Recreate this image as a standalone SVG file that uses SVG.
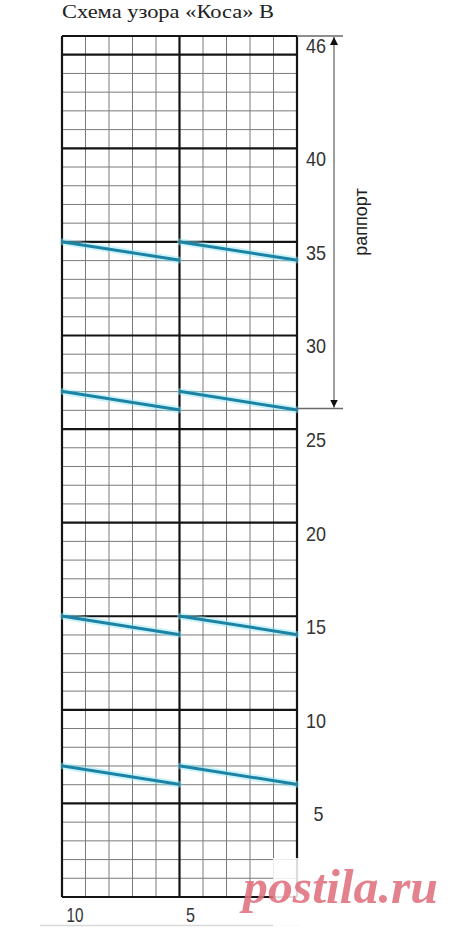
<svg xmlns="http://www.w3.org/2000/svg" width="460" height="931" viewBox="0 0 460 931">
<defs>
<style>
.thin{stroke:#7a7a7a;stroke-width:1;fill:none}
.thick{stroke:#141414;stroke-width:2.2;fill:none}
.lab{font-family:"Liberation Sans",Arial,sans-serif;font-size:21px;fill:#333;text-anchor:middle}
.glow{stroke:#8fe6f5;stroke-width:7;stroke-linecap:round;opacity:0.45;fill:none}
.cable{stroke:#1c83a4;stroke-width:3;stroke-linecap:round;fill:none}
.rap{stroke:#6a6a6a;stroke-width:1.3;fill:none}
</style>
<marker id="ah" viewBox="0 0 10 10" refX="10" refY="5" markerWidth="8" markerHeight="8" markerUnits="userSpaceOnUse" orient="auto-start-reverse">
<path d="M0,0 L10,5 L0,10 z" fill="#111"/>
</marker>
</defs>
<rect width="460" height="931" fill="#fff"/>
<text id="title" x="62" y="18" font-family="'Liberation Serif','Times New Roman',serif" font-size="19.5" fill="#222" textLength="212" lengthAdjust="spacingAndGlyphs">Схема узора «Коса» В</text>
<g id="grid">
<g class="thin">
<path d="M85.5,36V897M109,36V897M132.5,36V897M156,36V897M203,36V897M226.5,36V897M250,36V897M273.5,36V897"/>
<path d="M62,73.43H297M62,92.15H297M62,110.87H297M62,129.59H297M62,167.02H297M62,185.74H297M62,204.46H297M62,223.17H297M62,260.61H297M62,279.33H297M62,298.04H297M62,316.76H297M62,354.2H297M62,372.91H297M62,391.63H297M62,410.35H297M62,447.78H297M62,466.5H297M62,485.22H297M62,503.93H297M62,541.37H297M62,560.09H297M62,578.8H297M62,597.52H297M62,634.96H297M62,653.67H297M62,672.39H297M62,691.11H297M62,728.54H297M62,747.26H297M62,765.98H297M62,784.7H297M62,822.13H297M62,840.85H297M62,859.57H297M62,878.28H297"/>
</g>
<g class="thick">
<path d="M62,36V897M179.5,36V897M297,36V897"/>
<path d="M62,36H297M62,54.72H297M62,148.3H297M62,241.89H297M62,335.48H297M62,429.07H297M62,522.65H297M62,616.24H297M62,709.83H297M62,803.41H297M62,897H297"/>
</g>
</g>
<g id="cables">
<g id="c35a"><path class="glow" d="M63,241.9L178.5,260"/><path class="cable" d="M63,241.9L178.5,260"/></g>
<g id="c35b"><path class="glow" d="M180.5,241.9L296,260"/><path class="cable" d="M180.5,241.9L296,260"/></g>
<g id="c27a"><path class="glow" d="M63,391.6L178.5,409.8"/><path class="cable" d="M63,391.6L178.5,409.8"/></g>
<g id="c27b"><path class="glow" d="M180.5,391.6L296,409.8"/><path class="cable" d="M180.5,391.6L296,409.8"/></g>
<g id="c15a"><path class="glow" d="M63,616.2L178.5,634.4"/><path class="cable" d="M63,616.2L178.5,634.4"/></g>
<g id="c15b"><path class="glow" d="M180.5,616.2L296,634.4"/><path class="cable" d="M180.5,616.2L296,634.4"/></g>
<g id="c7a"><path class="glow" d="M63,766L178.5,784.2"/><path class="cable" d="M63,766L178.5,784.2"/></g>
<g id="c7b"><path class="glow" d="M180.5,766L296,784.2"/><path class="cable" d="M180.5,766L296,784.2"/></g>
</g>
<g id="rows">
<text class="lab" x="316" y="53" textLength="20" lengthAdjust="spacingAndGlyphs">46</text>
<text class="lab" x="316" y="166.2" textLength="20" lengthAdjust="spacingAndGlyphs">40</text>
<text class="lab" x="316" y="259.7" textLength="20" lengthAdjust="spacingAndGlyphs">35</text>
<text class="lab" x="316" y="353.3" textLength="20" lengthAdjust="spacingAndGlyphs">30</text>
<text class="lab" x="316" y="446.9" textLength="20" lengthAdjust="spacingAndGlyphs">25</text>
<text class="lab" x="316" y="540.5" textLength="20" lengthAdjust="spacingAndGlyphs">20</text>
<text class="lab" x="316" y="634.1" textLength="20" lengthAdjust="spacingAndGlyphs">15</text>
<text class="lab" x="316" y="727.7" textLength="20" lengthAdjust="spacingAndGlyphs">10</text>
<text class="lab" x="318.5" y="821.3" textLength="10" lengthAdjust="spacingAndGlyphs">5</text>
<text class="lab" x="75" y="922" textLength="17" lengthAdjust="spacingAndGlyphs">10</text>
<text class="lab" x="190.5" y="922" textLength="9" lengthAdjust="spacingAndGlyphs">5</text>
</g>
<g id="rapport">
<path class="rap" d="M297,36H343M297,408.5H343"/>
<path class="rap" d="M334,37V407.5" marker-start="url(#ah)" marker-end="url(#ah)"/>
<text x="0" y="0" transform="translate(367,222) rotate(-90)" font-family="'Liberation Sans',Arial,sans-serif" font-size="18" fill="#222" text-anchor="middle">раппорт</text>
</g>
<path d="M40,925.5H300" stroke="#d8d8d8" stroke-width="1.5"/>
<g id="watermark">
<rect x="273" y="858" width="187" height="73" fill="#fff" opacity="0.85"/>
<text x="243" y="903" font-family="'Liberation Serif','Times New Roman',serif" font-size="48" font-weight="bold" font-style="italic" fill="#e0707e" opacity="0.88" textLength="195" lengthAdjust="spacingAndGlyphs">postila.ru</text>
</g>
</svg>
